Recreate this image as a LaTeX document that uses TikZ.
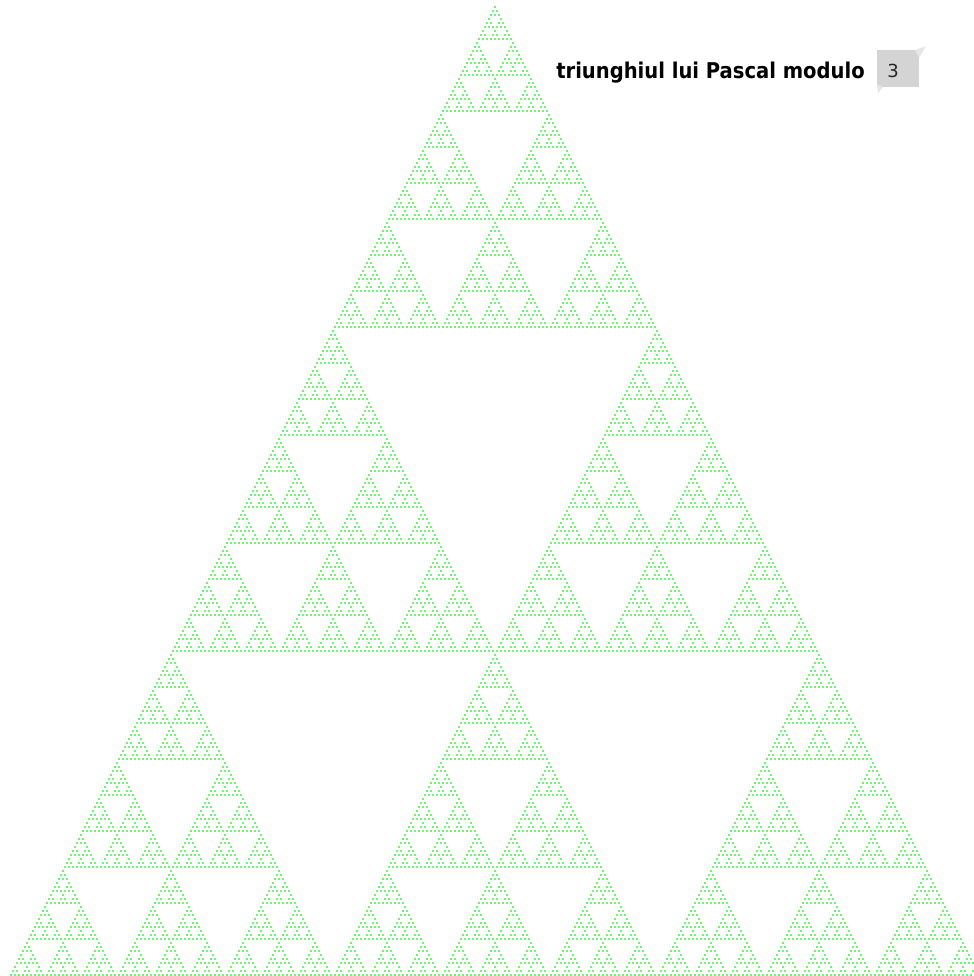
\documentclass[tikz,border=0pt]{standalone}
\usepackage{fontspec}
\setmainfont{DejaVu Sans}
\newfontfamily\condfont{DejaVu Sans Condensed}
\usetikzlibrary{positioning}
\definecolor{dotc}{HTML}{6EF76E}
\definecolor{boxc}{HTML}{D4D4D4}
\definecolor{earc}{HTML}{E6E6E6}
\tikzset{
  pdot/.style={fill=dotc},
  lbl/.style={font=\condfont\bfseries\fontsize{16.3}{18}\selectfont, inner sep=0pt},
  numlbl/.style={font=\fontsize{13.5}{15}\selectfont, text=black!85, inner sep=0pt},
}
\def\digitpairs{0/0,1/0,1/1,2/0,2/1,2/2}

\begin{document}
\begin{tikzpicture}[x=0.75pt, y=-0.75pt]
  \clip (0,0) rectangle (974,976);
  \fill[white] (0,0) rectangle (974,976);

  % rows 0..242 mod 3: base-3 digits of k never above those of n
  \foreach \na/\ka in \digitpairs
  \foreach \nb/\kb in \digitpairs
  \foreach \nc/\kc in \digitpairs
  \foreach \nd/\kd in \digitpairs
  \foreach \ne/\ke in \digitpairs {
    \edef\n{\the\numexpr \na*81+\nb*27+\nc*9+\nd*3+\ne\relax}
    \edef\k{\the\numexpr \ka*81+\kb*27+\kc*9+\kd*3+\ke\relax}
    \edef\px{\the\numexpr 495-2*\n+4*\k\relax}
    \edef\py{\the\numexpr 7+4*\n\relax}
    \fill[pdot] (\px-1.4,\py-1.4) rectangle ++(2.8,2.8);
  }

  % title and the modulus box
  \node[lbl, anchor=base west] (title) at (556,78) {triunghiul lui Pascal modulo};
  \fill[boxc] (877,50) rectangle (919,87);
  \fill[earc] (915,50) -- (926,46) -- (919,58) -- cycle;
  \fill[earc] (877,84) -- (878,93) -- (883,87) -- cycle;
  \node[numlbl, anchor=base west] (modn) at (887,77) {3};
\end{tikzpicture}
\end{document}
